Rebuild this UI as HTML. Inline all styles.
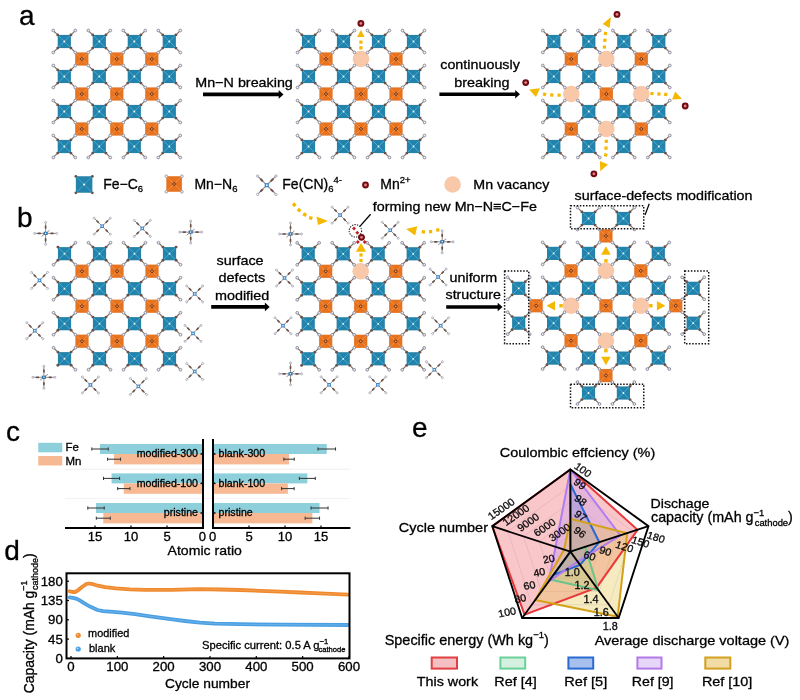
<!DOCTYPE html><html><head><meta charset="utf-8"><style>html,body{margin:0;padding:0;background:#fff}svg{display:block}text{font-family:'Liberation Sans', Arial, sans-serif;stroke:#000;stroke-width:0.3px}</style></head><body>
<svg width="800" height="700" viewBox="0 0 800 700">

<defs>
<g id="bl">
 <rect x="-6.6" y="-6.6" width="13.2" height="13.2" fill="#2383ab"/>
 <g stroke="#4cb2da" stroke-width="0.85"><line x1="-6.6" y1="-6.6" x2="6.6" y2="6.6"/><line x1="6.6" y1="-6.6" x2="-6.6" y2="6.6"/></g>
 <circle r="0.9" fill="#fff"/>
 <g fill="#6a5249"><circle cx="-6.6" cy="-6.6" r="1.45"/><circle cx="6.6" cy="-6.6" r="1.45"/><circle cx="-6.6" cy="6.6" r="1.45"/><circle cx="6.6" cy="6.6" r="1.45"/></g>
</g>
<g id="k0"><line x1="-7.4" y1="-7.4" x2="-10.2" y2="-10.2" stroke="#7a6c68" stroke-width="1.15"/><circle cx="-11" cy="-11" r="1.35" fill="#eef0f6" stroke="#8c8c9c" stroke-width="1"/></g>
<g id="k1"><line x1="7.4" y1="-7.4" x2="10.2" y2="-10.2" stroke="#7a6c68" stroke-width="1.15"/><circle cx="11" cy="-11" r="1.35" fill="#eef0f6" stroke="#8c8c9c" stroke-width="1"/></g>
<g id="k2"><line x1="-7.4" y1="7.4" x2="-10.2" y2="10.2" stroke="#7a6c68" stroke-width="1.15"/><circle cx="-11" cy="11" r="1.35" fill="#eef0f6" stroke="#8c8c9c" stroke-width="1"/></g>
<g id="k3"><line x1="7.4" y1="7.4" x2="10.2" y2="10.2" stroke="#7a6c68" stroke-width="1.15"/><circle cx="11" cy="11" r="1.35" fill="#eef0f6" stroke="#8c8c9c" stroke-width="1"/></g>
<g id="or">
 <rect x="-6.6" y="-6.6" width="13.2" height="13.2" fill="#e8731f"/>
 <g stroke="#f4a060" stroke-width="0.7"><line x1="-6.6" y1="-6.6" x2="6.6" y2="6.6"/><line x1="6.6" y1="-6.6" x2="-6.6" y2="6.6"/></g>
 <circle r="1.4" fill="none" stroke="#5a2a1a" stroke-width="0.8"/>
</g>
<g id="fx">
 <g stroke-width="1"><line x1="-7.8" y1="-7.8" x2="7.8" y2="7.8" stroke="#9a8e8a"/><line x1="7.8" y1="-7.8" x2="-7.8" y2="7.8" stroke="#9a8e8a"/></g>
 <g stroke="#6a5249" stroke-width="1.7" stroke-linecap="round"><line x1="-3.9" y1="-3.9" x2="-5.2" y2="-5.2"/><line x1="3.9" y1="3.9" x2="5.2" y2="5.2"/><line x1="3.9" y1="-3.9" x2="5.2" y2="-5.2"/><line x1="-3.9" y1="3.9" x2="-5.2" y2="5.2"/></g>
 <g fill="#fff" stroke="#a0a2b8" stroke-width="0.8"><circle cx="-8" cy="-8" r="1"/><circle cx="8" cy="8" r="1"/><circle cx="8" cy="-8" r="1"/><circle cx="-8" cy="8" r="1"/></g>
 <rect x="-1.8" y="-1.8" width="3.6" height="3.6" fill="#3f88c8"/><rect x="-0.7" y="-0.7" width="1.4" height="1.4" fill="#e8f4ff"/>
</g>
<g id="fp">
 <g stroke="#9a8e8a" stroke-width="1"><line x1="-11" y1="0" x2="11" y2="0"/><line x1="0" y1="-11" x2="0" y2="11"/><line x1="-4" y1="3" x2="4" y2="-3"/></g>
 <g stroke="#6a5249" stroke-width="1.7" stroke-linecap="round"><line x1="-5.5" y1="0" x2="-7.3" y2="0"/><line x1="5.5" y1="0" x2="7.3" y2="0"/><line x1="0" y1="-5.5" x2="0" y2="-7.3"/><line x1="0" y1="5.5" x2="0" y2="7.3"/></g>
 <g fill="#eef0f6" stroke="#a0a2b8" stroke-width="0.8"><circle cx="-11" cy="0" r="1"/><circle cx="11" cy="0" r="1"/><circle cx="0" cy="-11" r="1"/><circle cx="0" cy="11" r="1"/></g>
 <rect x="-2" y="-1.6" width="4" height="3.2" fill="#2f6fa8"/><circle r="0.8" fill="#dff"/>
</g>
<g id="mn"><circle r="3.4" fill="#6e0c12"/><circle r="1.4" fill="#e8808a"/></g>
</defs>
<rect width="800" height="700" fill="#fff"/>
<text x="19.00" y="24.80" font-size="28" text-anchor="start" fill="#000" >a</text>
<use href="#or" x="81.80" y="59.00"/>
<use href="#or" x="116.80" y="59.00"/>
<use href="#or" x="151.80" y="59.00"/>
<use href="#or" x="81.80" y="94.00"/>
<use href="#or" x="116.80" y="94.00"/>
<use href="#or" x="151.80" y="94.00"/>
<use href="#or" x="81.80" y="129.00"/>
<use href="#or" x="116.80" y="129.00"/>
<use href="#or" x="151.80" y="129.00"/>
<use href="#bl" x="64.30" y="41.50"/>
<use href="#bl" x="99.30" y="41.50"/>
<use href="#bl" x="134.30" y="41.50"/>
<use href="#bl" x="169.30" y="41.50"/>
<use href="#bl" x="64.30" y="76.50"/>
<use href="#bl" x="99.30" y="76.50"/>
<use href="#bl" x="134.30" y="76.50"/>
<use href="#bl" x="169.30" y="76.50"/>
<use href="#bl" x="64.30" y="111.50"/>
<use href="#bl" x="99.30" y="111.50"/>
<use href="#bl" x="134.30" y="111.50"/>
<use href="#bl" x="169.30" y="111.50"/>
<use href="#bl" x="64.30" y="146.50"/>
<use href="#bl" x="99.30" y="146.50"/>
<use href="#bl" x="134.30" y="146.50"/>
<use href="#bl" x="169.30" y="146.50"/>
<use href="#k0" x="64.30" y="41.50"/>
<use href="#k1" x="64.30" y="41.50"/>
<use href="#k2" x="64.30" y="41.50"/>
<use href="#k3" x="64.30" y="41.50"/>
<use href="#k0" x="99.30" y="41.50"/>
<use href="#k1" x="99.30" y="41.50"/>
<use href="#k2" x="99.30" y="41.50"/>
<use href="#k3" x="99.30" y="41.50"/>
<use href="#k0" x="134.30" y="41.50"/>
<use href="#k1" x="134.30" y="41.50"/>
<use href="#k2" x="134.30" y="41.50"/>
<use href="#k3" x="134.30" y="41.50"/>
<use href="#k0" x="169.30" y="41.50"/>
<use href="#k1" x="169.30" y="41.50"/>
<use href="#k2" x="169.30" y="41.50"/>
<use href="#k3" x="169.30" y="41.50"/>
<use href="#k0" x="64.30" y="76.50"/>
<use href="#k1" x="64.30" y="76.50"/>
<use href="#k2" x="64.30" y="76.50"/>
<use href="#k3" x="64.30" y="76.50"/>
<use href="#k0" x="99.30" y="76.50"/>
<use href="#k1" x="99.30" y="76.50"/>
<use href="#k2" x="99.30" y="76.50"/>
<use href="#k3" x="99.30" y="76.50"/>
<use href="#k0" x="134.30" y="76.50"/>
<use href="#k1" x="134.30" y="76.50"/>
<use href="#k2" x="134.30" y="76.50"/>
<use href="#k3" x="134.30" y="76.50"/>
<use href="#k0" x="169.30" y="76.50"/>
<use href="#k1" x="169.30" y="76.50"/>
<use href="#k2" x="169.30" y="76.50"/>
<use href="#k3" x="169.30" y="76.50"/>
<use href="#k0" x="64.30" y="111.50"/>
<use href="#k1" x="64.30" y="111.50"/>
<use href="#k2" x="64.30" y="111.50"/>
<use href="#k3" x="64.30" y="111.50"/>
<use href="#k0" x="99.30" y="111.50"/>
<use href="#k1" x="99.30" y="111.50"/>
<use href="#k2" x="99.30" y="111.50"/>
<use href="#k3" x="99.30" y="111.50"/>
<use href="#k0" x="134.30" y="111.50"/>
<use href="#k1" x="134.30" y="111.50"/>
<use href="#k2" x="134.30" y="111.50"/>
<use href="#k3" x="134.30" y="111.50"/>
<use href="#k0" x="169.30" y="111.50"/>
<use href="#k1" x="169.30" y="111.50"/>
<use href="#k2" x="169.30" y="111.50"/>
<use href="#k3" x="169.30" y="111.50"/>
<use href="#k0" x="64.30" y="146.50"/>
<use href="#k1" x="64.30" y="146.50"/>
<use href="#k2" x="64.30" y="146.50"/>
<use href="#k3" x="64.30" y="146.50"/>
<use href="#k0" x="99.30" y="146.50"/>
<use href="#k1" x="99.30" y="146.50"/>
<use href="#k2" x="99.30" y="146.50"/>
<use href="#k3" x="99.30" y="146.50"/>
<use href="#k0" x="134.30" y="146.50"/>
<use href="#k1" x="134.30" y="146.50"/>
<use href="#k2" x="134.30" y="146.50"/>
<use href="#k3" x="134.30" y="146.50"/>
<use href="#k0" x="169.30" y="146.50"/>
<use href="#k1" x="169.30" y="146.50"/>
<use href="#k2" x="169.30" y="146.50"/>
<use href="#k3" x="169.30" y="146.50"/>
<circle cx="361.00" cy="59.00" r="8.3" fill="#f8c8a8"/>
<use href="#or" x="326.00" y="59.00"/>
<use href="#or" x="396.00" y="59.00"/>
<use href="#or" x="326.00" y="94.00"/>
<use href="#or" x="361.00" y="94.00"/>
<use href="#or" x="396.00" y="94.00"/>
<use href="#or" x="326.00" y="129.00"/>
<use href="#or" x="361.00" y="129.00"/>
<use href="#or" x="396.00" y="129.00"/>
<use href="#bl" x="308.50" y="41.50"/>
<use href="#bl" x="343.50" y="41.50"/>
<use href="#bl" x="378.50" y="41.50"/>
<use href="#bl" x="413.50" y="41.50"/>
<use href="#bl" x="308.50" y="76.50"/>
<use href="#bl" x="343.50" y="76.50"/>
<use href="#bl" x="378.50" y="76.50"/>
<use href="#bl" x="413.50" y="76.50"/>
<use href="#bl" x="308.50" y="111.50"/>
<use href="#bl" x="343.50" y="111.50"/>
<use href="#bl" x="378.50" y="111.50"/>
<use href="#bl" x="413.50" y="111.50"/>
<use href="#bl" x="308.50" y="146.50"/>
<use href="#bl" x="343.50" y="146.50"/>
<use href="#bl" x="378.50" y="146.50"/>
<use href="#bl" x="413.50" y="146.50"/>
<use href="#k0" x="308.50" y="41.50"/>
<use href="#k1" x="308.50" y="41.50"/>
<use href="#k2" x="308.50" y="41.50"/>
<use href="#k3" x="308.50" y="41.50"/>
<use href="#k0" x="343.50" y="41.50"/>
<use href="#k1" x="343.50" y="41.50"/>
<use href="#k2" x="343.50" y="41.50"/>
<use href="#k3" x="343.50" y="41.50"/>
<use href="#k0" x="378.50" y="41.50"/>
<use href="#k1" x="378.50" y="41.50"/>
<use href="#k2" x="378.50" y="41.50"/>
<use href="#k3" x="378.50" y="41.50"/>
<use href="#k0" x="413.50" y="41.50"/>
<use href="#k1" x="413.50" y="41.50"/>
<use href="#k2" x="413.50" y="41.50"/>
<use href="#k3" x="413.50" y="41.50"/>
<use href="#k0" x="308.50" y="76.50"/>
<use href="#k1" x="308.50" y="76.50"/>
<use href="#k2" x="308.50" y="76.50"/>
<use href="#k3" x="308.50" y="76.50"/>
<use href="#k0" x="343.50" y="76.50"/>
<use href="#k1" x="343.50" y="76.50"/>
<use href="#k2" x="343.50" y="76.50"/>
<use href="#k3" x="343.50" y="76.50"/>
<use href="#k0" x="378.50" y="76.50"/>
<use href="#k1" x="378.50" y="76.50"/>
<use href="#k2" x="378.50" y="76.50"/>
<use href="#k3" x="378.50" y="76.50"/>
<use href="#k0" x="413.50" y="76.50"/>
<use href="#k1" x="413.50" y="76.50"/>
<use href="#k2" x="413.50" y="76.50"/>
<use href="#k3" x="413.50" y="76.50"/>
<use href="#k0" x="308.50" y="111.50"/>
<use href="#k1" x="308.50" y="111.50"/>
<use href="#k2" x="308.50" y="111.50"/>
<use href="#k3" x="308.50" y="111.50"/>
<use href="#k0" x="343.50" y="111.50"/>
<use href="#k1" x="343.50" y="111.50"/>
<use href="#k2" x="343.50" y="111.50"/>
<use href="#k3" x="343.50" y="111.50"/>
<use href="#k0" x="378.50" y="111.50"/>
<use href="#k1" x="378.50" y="111.50"/>
<use href="#k2" x="378.50" y="111.50"/>
<use href="#k3" x="378.50" y="111.50"/>
<use href="#k0" x="413.50" y="111.50"/>
<use href="#k1" x="413.50" y="111.50"/>
<use href="#k2" x="413.50" y="111.50"/>
<use href="#k3" x="413.50" y="111.50"/>
<use href="#k0" x="308.50" y="146.50"/>
<use href="#k1" x="308.50" y="146.50"/>
<use href="#k2" x="308.50" y="146.50"/>
<use href="#k3" x="308.50" y="146.50"/>
<use href="#k0" x="343.50" y="146.50"/>
<use href="#k1" x="343.50" y="146.50"/>
<use href="#k2" x="343.50" y="146.50"/>
<use href="#k3" x="343.50" y="146.50"/>
<use href="#k0" x="378.50" y="146.50"/>
<use href="#k1" x="378.50" y="146.50"/>
<use href="#k2" x="378.50" y="146.50"/>
<use href="#k3" x="378.50" y="146.50"/>
<use href="#k0" x="413.50" y="146.50"/>
<use href="#k1" x="413.50" y="146.50"/>
<use href="#k2" x="413.50" y="146.50"/>
<use href="#k3" x="413.50" y="146.50"/>
<rect x="359.30" y="46.20" width="3.2" height="3.2" fill="#f5b800" transform="rotate(-90.0 360.90 47.80)"/>
<rect x="359.30" y="40.60" width="3.2" height="3.2" fill="#f5b800" transform="rotate(-90.3 360.90 42.20)"/>
<polygon points="360.90,30.00 357.10,37.10 364.60,37.10" fill="#f5b800"/>
<use href="#mn" x="360.90" y="23.40"/>
<circle cx="606.30" cy="59.00" r="8.3" fill="#f8c8a8"/>
<circle cx="571.30" cy="94.00" r="8.3" fill="#f8c8a8"/>
<circle cx="641.30" cy="94.00" r="8.3" fill="#f8c8a8"/>
<circle cx="606.30" cy="129.00" r="8.3" fill="#f8c8a8"/>
<use href="#or" x="571.30" y="59.00"/>
<use href="#or" x="641.30" y="59.00"/>
<use href="#or" x="606.30" y="94.00"/>
<use href="#or" x="571.30" y="129.00"/>
<use href="#or" x="641.30" y="129.00"/>
<use href="#bl" x="553.80" y="41.50"/>
<use href="#bl" x="588.80" y="41.50"/>
<use href="#bl" x="623.80" y="41.50"/>
<use href="#bl" x="658.80" y="41.50"/>
<use href="#bl" x="553.80" y="76.50"/>
<use href="#bl" x="588.80" y="76.50"/>
<use href="#bl" x="623.80" y="76.50"/>
<use href="#bl" x="658.80" y="76.50"/>
<use href="#bl" x="553.80" y="111.50"/>
<use href="#bl" x="588.80" y="111.50"/>
<use href="#bl" x="623.80" y="111.50"/>
<use href="#bl" x="658.80" y="111.50"/>
<use href="#bl" x="553.80" y="146.50"/>
<use href="#bl" x="588.80" y="146.50"/>
<use href="#bl" x="623.80" y="146.50"/>
<use href="#bl" x="658.80" y="146.50"/>
<use href="#k0" x="553.80" y="41.50"/>
<use href="#k1" x="553.80" y="41.50"/>
<use href="#k2" x="553.80" y="41.50"/>
<use href="#k3" x="553.80" y="41.50"/>
<use href="#k0" x="588.80" y="41.50"/>
<use href="#k1" x="588.80" y="41.50"/>
<use href="#k2" x="588.80" y="41.50"/>
<use href="#k3" x="588.80" y="41.50"/>
<use href="#k0" x="623.80" y="41.50"/>
<use href="#k1" x="623.80" y="41.50"/>
<use href="#k2" x="623.80" y="41.50"/>
<use href="#k3" x="623.80" y="41.50"/>
<use href="#k0" x="658.80" y="41.50"/>
<use href="#k1" x="658.80" y="41.50"/>
<use href="#k2" x="658.80" y="41.50"/>
<use href="#k3" x="658.80" y="41.50"/>
<use href="#k0" x="553.80" y="76.50"/>
<use href="#k1" x="553.80" y="76.50"/>
<use href="#k2" x="553.80" y="76.50"/>
<use href="#k3" x="553.80" y="76.50"/>
<use href="#k0" x="588.80" y="76.50"/>
<use href="#k1" x="588.80" y="76.50"/>
<use href="#k2" x="588.80" y="76.50"/>
<use href="#k3" x="588.80" y="76.50"/>
<use href="#k0" x="623.80" y="76.50"/>
<use href="#k1" x="623.80" y="76.50"/>
<use href="#k2" x="623.80" y="76.50"/>
<use href="#k3" x="623.80" y="76.50"/>
<use href="#k0" x="658.80" y="76.50"/>
<use href="#k1" x="658.80" y="76.50"/>
<use href="#k2" x="658.80" y="76.50"/>
<use href="#k3" x="658.80" y="76.50"/>
<use href="#k0" x="553.80" y="111.50"/>
<use href="#k1" x="553.80" y="111.50"/>
<use href="#k2" x="553.80" y="111.50"/>
<use href="#k3" x="553.80" y="111.50"/>
<use href="#k0" x="588.80" y="111.50"/>
<use href="#k1" x="588.80" y="111.50"/>
<use href="#k2" x="588.80" y="111.50"/>
<use href="#k3" x="588.80" y="111.50"/>
<use href="#k0" x="623.80" y="111.50"/>
<use href="#k1" x="623.80" y="111.50"/>
<use href="#k2" x="623.80" y="111.50"/>
<use href="#k3" x="623.80" y="111.50"/>
<use href="#k0" x="658.80" y="111.50"/>
<use href="#k1" x="658.80" y="111.50"/>
<use href="#k2" x="658.80" y="111.50"/>
<use href="#k3" x="658.80" y="111.50"/>
<use href="#k0" x="553.80" y="146.50"/>
<use href="#k1" x="553.80" y="146.50"/>
<use href="#k2" x="553.80" y="146.50"/>
<use href="#k3" x="553.80" y="146.50"/>
<use href="#k0" x="588.80" y="146.50"/>
<use href="#k1" x="588.80" y="146.50"/>
<use href="#k2" x="588.80" y="146.50"/>
<use href="#k3" x="588.80" y="146.50"/>
<use href="#k0" x="623.80" y="146.50"/>
<use href="#k1" x="623.80" y="146.50"/>
<use href="#k2" x="623.80" y="146.50"/>
<use href="#k3" x="623.80" y="146.50"/>
<use href="#k0" x="658.80" y="146.50"/>
<use href="#k1" x="658.80" y="146.50"/>
<use href="#k2" x="658.80" y="146.50"/>
<use href="#k3" x="658.80" y="146.50"/>
<rect x="602.80" y="45.50" width="3.2" height="3.2" fill="#f5b800" transform="rotate(-85.8 604.40 47.10)"/>
<rect x="603.30" y="38.70" width="3.2" height="3.2" fill="#f5b800" transform="rotate(-85.0 604.90 40.30)"/>
<rect x="603.90" y="31.80" width="3.2" height="3.2" fill="#f5b800" transform="rotate(-77.9 605.50 33.40)"/>
<polygon points="610.90,17.10 602.70,24.00 609.60,27.90" fill="#f5b800"/>
<use href="#mn" x="617.00" y="14.40"/>
<rect x="557.50" y="93.60" width="3.2" height="3.2" fill="#f5b800" transform="rotate(-178.4 559.10 95.20)"/>
<rect x="550.20" y="93.40" width="3.2" height="3.2" fill="#f5b800" transform="rotate(-174.4 551.80 95.00)"/>
<rect x="543.00" y="92.70" width="3.2" height="3.2" fill="#f5b800" transform="rotate(-164.4 544.60 94.30)"/>
<polygon points="529.10,89.60 540.00,88.30 536.00,97.00" fill="#f5b800"/>
<use href="#mn" x="525.70" y="82.60"/>
<rect x="650.40" y="92.00" width="3.2" height="3.2" fill="#f5b800" transform="rotate(3.3 652.00 93.60)"/>
<rect x="657.30" y="92.40" width="3.2" height="3.2" fill="#f5b800" transform="rotate(3.4 658.90 94.00)"/>
<rect x="664.10" y="92.80" width="3.2" height="3.2" fill="#f5b800" transform="rotate(12.1 665.70 94.40)"/>
<polygon points="682.00,99.10 675.10,91.40 672.10,99.60" fill="#f5b800"/>
<use href="#mn" x="685.20" y="106.00"/>
<rect x="604.70" y="139.70" width="3.2" height="3.2" fill="#f5b800" transform="rotate(92.5 606.30 141.30)"/>
<rect x="604.40" y="146.50" width="3.2" height="3.2" fill="#f5b800" transform="rotate(92.5 606.00 148.10)"/>
<rect x="604.10" y="153.40" width="3.2" height="3.2" fill="#f5b800" transform="rotate(105.7 605.70 155.00)"/>
<polygon points="600.30,171.30 599.90,161.00 608.00,164.40" fill="#f5b800"/>
<use href="#mn" x="593.90" y="173.80"/>
<text x="244.10" y="86.50" font-size="13.5" text-anchor="middle" fill="#000" textLength="97.5" lengthAdjust="spacingAndGlyphs" >Mn−N breaking</text>
<line x1="203" y1="94.4" x2="279.2" y2="94.4" stroke="#000" stroke-width="3.6"/>
<polygon points="278.7,90.10000000000001 283.5,94.4 278.7,98.7" fill="#000"/>
<text x="480.05" y="69.30" font-size="13.5" text-anchor="middle" fill="#000" textLength="79.6" lengthAdjust="spacingAndGlyphs" >continuously</text>
<text x="481.85" y="86.80" font-size="13.5" text-anchor="middle" fill="#000" textLength="55.2" lengthAdjust="spacingAndGlyphs" >breaking</text>
<line x1="439.4" y1="94.3" x2="515.7" y2="94.3" stroke="#000" stroke-width="3.6"/>
<polygon points="515.2,90.0 520,94.3 515.2,98.6" fill="#000"/>
<g transform="translate(84.1,184.5) scale(1.25)"><rect x="-6.6" y="-6.6" width="13.2" height="13.2" fill="#2383ab"/><g stroke="#4cb2da" stroke-width="0.6"><line x1="-6.6" y1="-6.6" x2="6.6" y2="6.6"/><line x1="6.6" y1="-6.6" x2="-6.6" y2="6.6"/></g><circle r="0.8" fill="#fff"/><g fill="#6a5249"><circle cx="-6.6" cy="-6.6" r="1.1"/><circle cx="6.6" cy="-6.6" r="1.1"/><circle cx="-6.6" cy="6.6" r="1.1"/><circle cx="6.6" cy="6.6" r="1.1"/></g></g>
<text x="103.20" y="188.60" font-size="14" text-anchor="start" fill="#000" >Fe−C<tspan font-size="9.5" dy="3.6">6</tspan></text>
<g transform="translate(174.1,184) scale(1.18)"><rect x="-6.6" y="-6.6" width="13.2" height="13.2" fill="#e8731f"/><g stroke="#f4a060" stroke-width="0.6"><line x1="-6.6" y1="-6.6" x2="6.6" y2="6.6"/><line x1="6.6" y1="-6.6" x2="-6.6" y2="6.6"/></g><circle r="1.2" fill="none" stroke="#5a2a1a" stroke-width="0.7"/><g fill="#fff" stroke="#8c8c9c" stroke-width="0.7"><circle cx="-6.6" cy="-6.6" r="1.1"/><circle cx="6.6" cy="-6.6" r="1.1"/><circle cx="-6.6" cy="6.6" r="1.1"/><circle cx="6.6" cy="6.6" r="1.1"/></g></g>
<text x="194.40" y="188.60" font-size="14" text-anchor="start" fill="#000" >Mn−N<tspan font-size="9.5" dy="3.6">6</tspan></text>
<use href="#fx" x="266.8" y="185.2" transform="translate(266.8,185.2) scale(1.15) translate(-266.8,-185.2)"/>
<text x="282.30" y="188.60" font-size="14" text-anchor="start" fill="#000" >Fe(CN)<tspan font-size="9.5" dy="3.6">6</tspan><tspan font-size="9.5" dy="-9.5">4-</tspan></text>
<use href="#mn" x="365.50" y="185.00"/>
<text x="380.30" y="188.60" font-size="14" text-anchor="start" fill="#000" >Mn<tspan font-size="9.5" dy="-6">2+</tspan></text>
<circle cx="452.6" cy="184.5" r="8.3" fill="#f8c8a8"/>
<text x="511.35" y="188.60" font-size="13.5" text-anchor="middle" fill="#000" textLength="76.0" lengthAdjust="spacingAndGlyphs" >Mn vacancy</text>
<text x="17.00" y="227.40" font-size="28" text-anchor="start" fill="#000" >b</text>
<use href="#or" x="82.00" y="271.20"/>
<use href="#or" x="117.00" y="271.20"/>
<use href="#or" x="152.00" y="271.20"/>
<use href="#or" x="82.00" y="306.20"/>
<use href="#or" x="117.00" y="306.20"/>
<use href="#or" x="152.00" y="306.20"/>
<use href="#or" x="82.00" y="341.20"/>
<use href="#or" x="117.00" y="341.20"/>
<use href="#or" x="152.00" y="341.20"/>
<use href="#bl" x="64.50" y="253.70"/>
<use href="#bl" x="99.50" y="253.70"/>
<use href="#bl" x="134.50" y="253.70"/>
<use href="#bl" x="169.50" y="253.70"/>
<use href="#bl" x="64.50" y="288.70"/>
<use href="#bl" x="99.50" y="288.70"/>
<use href="#bl" x="134.50" y="288.70"/>
<use href="#bl" x="169.50" y="288.70"/>
<use href="#bl" x="64.50" y="323.70"/>
<use href="#bl" x="99.50" y="323.70"/>
<use href="#bl" x="134.50" y="323.70"/>
<use href="#bl" x="169.50" y="323.70"/>
<use href="#bl" x="64.50" y="358.70"/>
<use href="#bl" x="99.50" y="358.70"/>
<use href="#bl" x="134.50" y="358.70"/>
<use href="#bl" x="169.50" y="358.70"/>
<use href="#k1" x="64.50" y="253.70"/>
<use href="#k2" x="64.50" y="253.70"/>
<use href="#k3" x="64.50" y="253.70"/>
<use href="#k0" x="99.50" y="253.70"/>
<use href="#k1" x="99.50" y="253.70"/>
<use href="#k2" x="99.50" y="253.70"/>
<use href="#k3" x="99.50" y="253.70"/>
<use href="#k0" x="134.50" y="253.70"/>
<use href="#k1" x="134.50" y="253.70"/>
<use href="#k2" x="134.50" y="253.70"/>
<use href="#k3" x="134.50" y="253.70"/>
<use href="#k0" x="169.50" y="253.70"/>
<use href="#k2" x="169.50" y="253.70"/>
<use href="#k3" x="169.50" y="253.70"/>
<use href="#k0" x="64.50" y="288.70"/>
<use href="#k1" x="64.50" y="288.70"/>
<use href="#k2" x="64.50" y="288.70"/>
<use href="#k3" x="64.50" y="288.70"/>
<use href="#k0" x="99.50" y="288.70"/>
<use href="#k1" x="99.50" y="288.70"/>
<use href="#k2" x="99.50" y="288.70"/>
<use href="#k3" x="99.50" y="288.70"/>
<use href="#k0" x="134.50" y="288.70"/>
<use href="#k1" x="134.50" y="288.70"/>
<use href="#k2" x="134.50" y="288.70"/>
<use href="#k3" x="134.50" y="288.70"/>
<use href="#k0" x="169.50" y="288.70"/>
<use href="#k1" x="169.50" y="288.70"/>
<use href="#k2" x="169.50" y="288.70"/>
<use href="#k3" x="169.50" y="288.70"/>
<use href="#k0" x="64.50" y="323.70"/>
<use href="#k1" x="64.50" y="323.70"/>
<use href="#k2" x="64.50" y="323.70"/>
<use href="#k3" x="64.50" y="323.70"/>
<use href="#k0" x="99.50" y="323.70"/>
<use href="#k1" x="99.50" y="323.70"/>
<use href="#k2" x="99.50" y="323.70"/>
<use href="#k3" x="99.50" y="323.70"/>
<use href="#k0" x="134.50" y="323.70"/>
<use href="#k1" x="134.50" y="323.70"/>
<use href="#k2" x="134.50" y="323.70"/>
<use href="#k3" x="134.50" y="323.70"/>
<use href="#k0" x="169.50" y="323.70"/>
<use href="#k1" x="169.50" y="323.70"/>
<use href="#k2" x="169.50" y="323.70"/>
<use href="#k3" x="169.50" y="323.70"/>
<use href="#k0" x="64.50" y="358.70"/>
<use href="#k1" x="64.50" y="358.70"/>
<use href="#k3" x="64.50" y="358.70"/>
<use href="#k0" x="99.50" y="358.70"/>
<use href="#k1" x="99.50" y="358.70"/>
<use href="#k2" x="99.50" y="358.70"/>
<use href="#k3" x="99.50" y="358.70"/>
<use href="#k0" x="134.50" y="358.70"/>
<use href="#k1" x="134.50" y="358.70"/>
<use href="#k2" x="134.50" y="358.70"/>
<use href="#k3" x="134.50" y="358.70"/>
<use href="#k0" x="169.50" y="358.70"/>
<use href="#k1" x="169.50" y="358.70"/>
<use href="#k2" x="169.50" y="358.70"/>
<use href="#k3" x="169.50" y="358.70"/>
<use href="#fx" x="102.2" y="226.2"/>
<use href="#fx" x="142.3" y="228.4"/>
<use href="#fx" x="39.5" y="280.4"/>
<use href="#fx" x="194.7" y="293.9"/>
<use href="#fx" x="34.8" y="330.7"/>
<use href="#fx" x="193" y="333.4"/>
<use href="#fx" x="90.4" y="385"/>
<use href="#fx" x="138.4" y="386.4"/>
<use href="#fx" x="194.7" y="371.5"/>
<use href="#fp" x="45.6" y="233.4"/>
<use href="#fp" x="190.7" y="232.1"/>
<use href="#fp" x="43.9" y="377.3"/>
<text x="240.05" y="265.40" font-size="13.5" text-anchor="middle" fill="#000" textLength="47.2" lengthAdjust="spacingAndGlyphs" >surface</text>
<text x="241.85" y="282.30" font-size="13.5" text-anchor="middle" fill="#000" textLength="46.6" lengthAdjust="spacingAndGlyphs" >defects</text>
<text x="242.10" y="299.70" font-size="13.5" text-anchor="middle" fill="#000" textLength="54.3" lengthAdjust="spacingAndGlyphs" >modified</text>
<line x1="211.2" y1="306.9" x2="265.4" y2="306.9" stroke="#000" stroke-width="3.6"/>
<polygon points="264.9,302.59999999999997 269.7,306.9 264.9,311.2" fill="#000"/>
<circle cx="360.70" cy="271.30" r="8.3" fill="#f8c8a8"/>
<use href="#or" x="325.70" y="271.30"/>
<use href="#or" x="395.70" y="271.30"/>
<use href="#or" x="325.70" y="306.30"/>
<use href="#or" x="360.70" y="306.30"/>
<use href="#or" x="395.70" y="306.30"/>
<use href="#or" x="325.70" y="341.30"/>
<use href="#or" x="360.70" y="341.30"/>
<use href="#or" x="395.70" y="341.30"/>
<use href="#bl" x="308.20" y="253.80"/>
<use href="#bl" x="343.20" y="253.80"/>
<use href="#bl" x="378.20" y="253.80"/>
<use href="#bl" x="413.20" y="253.80"/>
<use href="#bl" x="308.20" y="288.80"/>
<use href="#bl" x="343.20" y="288.80"/>
<use href="#bl" x="378.20" y="288.80"/>
<use href="#bl" x="413.20" y="288.80"/>
<use href="#bl" x="308.20" y="323.80"/>
<use href="#bl" x="343.20" y="323.80"/>
<use href="#bl" x="378.20" y="323.80"/>
<use href="#bl" x="413.20" y="323.80"/>
<use href="#bl" x="308.20" y="358.80"/>
<use href="#bl" x="343.20" y="358.80"/>
<use href="#bl" x="378.20" y="358.80"/>
<use href="#bl" x="413.20" y="358.80"/>
<use href="#k0" x="308.20" y="253.80"/>
<use href="#k1" x="308.20" y="253.80"/>
<use href="#k2" x="308.20" y="253.80"/>
<use href="#k3" x="308.20" y="253.80"/>
<use href="#k0" x="343.20" y="253.80"/>
<use href="#k1" x="343.20" y="253.80"/>
<use href="#k2" x="343.20" y="253.80"/>
<use href="#k3" x="343.20" y="253.80"/>
<use href="#k0" x="378.20" y="253.80"/>
<use href="#k1" x="378.20" y="253.80"/>
<use href="#k2" x="378.20" y="253.80"/>
<use href="#k3" x="378.20" y="253.80"/>
<use href="#k0" x="413.20" y="253.80"/>
<use href="#k1" x="413.20" y="253.80"/>
<use href="#k2" x="413.20" y="253.80"/>
<use href="#k3" x="413.20" y="253.80"/>
<use href="#k0" x="308.20" y="288.80"/>
<use href="#k1" x="308.20" y="288.80"/>
<use href="#k2" x="308.20" y="288.80"/>
<use href="#k3" x="308.20" y="288.80"/>
<use href="#k0" x="343.20" y="288.80"/>
<use href="#k1" x="343.20" y="288.80"/>
<use href="#k2" x="343.20" y="288.80"/>
<use href="#k3" x="343.20" y="288.80"/>
<use href="#k0" x="378.20" y="288.80"/>
<use href="#k1" x="378.20" y="288.80"/>
<use href="#k2" x="378.20" y="288.80"/>
<use href="#k3" x="378.20" y="288.80"/>
<use href="#k0" x="413.20" y="288.80"/>
<use href="#k1" x="413.20" y="288.80"/>
<use href="#k2" x="413.20" y="288.80"/>
<use href="#k3" x="413.20" y="288.80"/>
<use href="#k0" x="308.20" y="323.80"/>
<use href="#k1" x="308.20" y="323.80"/>
<use href="#k2" x="308.20" y="323.80"/>
<use href="#k3" x="308.20" y="323.80"/>
<use href="#k0" x="343.20" y="323.80"/>
<use href="#k1" x="343.20" y="323.80"/>
<use href="#k2" x="343.20" y="323.80"/>
<use href="#k3" x="343.20" y="323.80"/>
<use href="#k0" x="378.20" y="323.80"/>
<use href="#k1" x="378.20" y="323.80"/>
<use href="#k2" x="378.20" y="323.80"/>
<use href="#k3" x="378.20" y="323.80"/>
<use href="#k0" x="413.20" y="323.80"/>
<use href="#k1" x="413.20" y="323.80"/>
<use href="#k2" x="413.20" y="323.80"/>
<use href="#k3" x="413.20" y="323.80"/>
<use href="#k0" x="308.20" y="358.80"/>
<use href="#k1" x="308.20" y="358.80"/>
<use href="#k3" x="308.20" y="358.80"/>
<use href="#k0" x="343.20" y="358.80"/>
<use href="#k1" x="343.20" y="358.80"/>
<use href="#k2" x="343.20" y="358.80"/>
<use href="#k3" x="343.20" y="358.80"/>
<use href="#k0" x="378.20" y="358.80"/>
<use href="#k1" x="378.20" y="358.80"/>
<use href="#k2" x="378.20" y="358.80"/>
<use href="#k3" x="378.20" y="358.80"/>
<use href="#k0" x="413.20" y="358.80"/>
<use href="#k1" x="413.20" y="358.80"/>
<use href="#k2" x="413.20" y="358.80"/>
<use href="#k3" x="413.20" y="358.80"/>
<use href="#fx" x="340.1" y="215.1"/>
<use href="#fx" x="390.25" y="230.25"/>
<use href="#fx" x="284.5" y="278"/>
<use href="#fx" x="438.1" y="277"/>
<use href="#fx" x="283" y="325.7"/>
<use href="#fx" x="440.6" y="325.7"/>
<use href="#fx" x="329.1" y="384.8"/>
<use href="#fx" x="377.8" y="384.8"/>
<use href="#fx" x="434.4" y="369.7"/>
<use href="#fp" x="290.5" y="234"/>
<use href="#fp" x="442.2" y="241.8"/>
<use href="#fp" x="290.5" y="373.8"/>
<circle cx="355.4" cy="230.8" r="6.2" fill="none" stroke="#222" stroke-width="1.1" stroke-dasharray="1.3,1.2"/>
<rect x="352.6" y="227.1" width="2.8" height="2.8" fill="#c0202a" transform="rotate(45 354 228.5)"/>
<rect x="355.90000000000003" y="231.29999999999998" width="2.8" height="2.8" fill="#c0202a" transform="rotate(45 357.3 232.7)"/>
<rect x="356.40000000000003" y="240.6" width="2.8" height="2.8" fill="#c0202a" transform="rotate(45 357.8 242)"/>
<rect x="363.3" y="240.6" width="2.8" height="2.8" fill="#c0202a" transform="rotate(45 364.7 242)"/>
<use href="#mn" x="361.50" y="237.30"/>
<rect x="359.40" y="258.90" width="3.2" height="3.2" fill="#f5b800" transform="rotate(-90.0 361.00 260.50)"/>
<rect x="359.40" y="253.40" width="3.2" height="3.2" fill="#f5b800" transform="rotate(-90.0 361.00 255.00)"/>
<polygon points="361.00,242.90 355.90,251.70 366.10,251.70" fill="#f5b800"/>
<line x1="370.6" y1="214.3" x2="359.9" y2="226.4" stroke="#000" stroke-width="1.3"/>
<text x="454.85" y="211.20" font-size="13.5" text-anchor="middle" fill="#000" textLength="164.0" lengthAdjust="spacingAndGlyphs" >forming new Mn−N≡C−Fe</text>
<rect x="292.55" y="203.05" width="3.4" height="3.4" fill="#f5b800" transform="rotate(48.3 294.25 204.75)"/>
<rect x="297.40" y="208.50" width="3.4" height="3.4" fill="#f5b800" transform="rotate(37.9 299.10 210.20)"/>
<rect x="303.05" y="212.90" width="3.4" height="3.4" fill="#f5b800" transform="rotate(29.5 304.75 214.60)"/>
<rect x="309.05" y="216.30" width="3.4" height="3.4" fill="#f5b800" transform="rotate(15.7 310.75 218.00)"/>
<polygon points="316.50,216.50 328.00,221.00 318.00,225.00" fill="#f5b800"/>
<rect x="436.20" y="228.40" width="3.2" height="3.2" fill="#f5b800" transform="rotate(167.5 437.80 230.00)"/>
<rect x="429.00" y="230.00" width="3.2" height="3.2" fill="#f5b800" transform="rotate(177.6 430.60 231.60)"/>
<rect x="421.80" y="230.30" width="3.2" height="3.2" fill="#f5b800" transform="rotate(-171.4 423.40 231.90)"/>
<polygon points="406.20,229.10 417.20,226.20 415.20,235.60" fill="#f5b800"/>
<text x="473.40" y="282.20" font-size="13.5" text-anchor="middle" fill="#000" textLength="47.7" lengthAdjust="spacingAndGlyphs" >uniform</text>
<text x="473.25" y="299.20" font-size="13.5" text-anchor="middle" fill="#000" textLength="55.4" lengthAdjust="spacingAndGlyphs" >structure</text>
<line x1="446.2" y1="307" x2="498.2" y2="307" stroke="#000" stroke-width="3.6"/>
<polygon points="497.7,302.7 502.5,307 497.7,311.3" fill="#000"/>
<circle cx="605.95" cy="270.85" r="8.3" fill="#f8c8a8"/>
<circle cx="571.05" cy="305.75" r="8.3" fill="#f8c8a8"/>
<circle cx="640.85" cy="305.75" r="8.3" fill="#f8c8a8"/>
<circle cx="605.95" cy="340.65" r="8.3" fill="#f8c8a8"/>
<use href="#or" x="571.05" y="270.85"/>
<use href="#or" x="640.85" y="270.85"/>
<use href="#or" x="605.95" y="305.75"/>
<use href="#or" x="571.05" y="340.65"/>
<use href="#or" x="640.85" y="340.65"/>
<use href="#or" x="605.95" y="235.95"/>
<use href="#or" x="605.95" y="375.55"/>
<use href="#or" x="536.15" y="305.75"/>
<use href="#or" x="675.75" y="305.75"/>
<use href="#bl" x="553.60" y="253.40"/>
<use href="#bl" x="588.50" y="253.40"/>
<use href="#bl" x="623.40" y="253.40"/>
<use href="#bl" x="658.30" y="253.40"/>
<use href="#bl" x="553.60" y="288.30"/>
<use href="#bl" x="588.50" y="288.30"/>
<use href="#bl" x="623.40" y="288.30"/>
<use href="#bl" x="658.30" y="288.30"/>
<use href="#bl" x="553.60" y="323.20"/>
<use href="#bl" x="588.50" y="323.20"/>
<use href="#bl" x="623.40" y="323.20"/>
<use href="#bl" x="658.30" y="323.20"/>
<use href="#bl" x="553.60" y="358.10"/>
<use href="#bl" x="588.50" y="358.10"/>
<use href="#bl" x="623.40" y="358.10"/>
<use href="#bl" x="658.30" y="358.10"/>
<use href="#bl" x="518.70" y="288.30"/>
<use href="#bl" x="518.70" y="323.20"/>
<use href="#bl" x="693.20" y="288.30"/>
<use href="#bl" x="693.20" y="323.20"/>
<use href="#bl" x="588.50" y="218.50"/>
<use href="#bl" x="623.40" y="218.50"/>
<use href="#bl" x="588.50" y="393.00"/>
<use href="#bl" x="623.40" y="393.00"/>
<use href="#k0" x="553.60" y="253.40"/>
<use href="#k1" x="553.60" y="253.40"/>
<use href="#k2" x="553.60" y="253.40"/>
<use href="#k3" x="553.60" y="253.40"/>
<use href="#k0" x="588.50" y="253.40"/>
<use href="#k1" x="588.50" y="253.40"/>
<use href="#k2" x="588.50" y="253.40"/>
<use href="#k3" x="588.50" y="253.40"/>
<use href="#k0" x="623.40" y="253.40"/>
<use href="#k1" x="623.40" y="253.40"/>
<use href="#k2" x="623.40" y="253.40"/>
<use href="#k3" x="623.40" y="253.40"/>
<use href="#k0" x="658.30" y="253.40"/>
<use href="#k1" x="658.30" y="253.40"/>
<use href="#k2" x="658.30" y="253.40"/>
<use href="#k3" x="658.30" y="253.40"/>
<use href="#k0" x="553.60" y="288.30"/>
<use href="#k1" x="553.60" y="288.30"/>
<use href="#k2" x="553.60" y="288.30"/>
<use href="#k3" x="553.60" y="288.30"/>
<use href="#k0" x="588.50" y="288.30"/>
<use href="#k1" x="588.50" y="288.30"/>
<use href="#k2" x="588.50" y="288.30"/>
<use href="#k3" x="588.50" y="288.30"/>
<use href="#k0" x="623.40" y="288.30"/>
<use href="#k1" x="623.40" y="288.30"/>
<use href="#k2" x="623.40" y="288.30"/>
<use href="#k3" x="623.40" y="288.30"/>
<use href="#k0" x="658.30" y="288.30"/>
<use href="#k1" x="658.30" y="288.30"/>
<use href="#k2" x="658.30" y="288.30"/>
<use href="#k3" x="658.30" y="288.30"/>
<use href="#k0" x="553.60" y="323.20"/>
<use href="#k1" x="553.60" y="323.20"/>
<use href="#k2" x="553.60" y="323.20"/>
<use href="#k3" x="553.60" y="323.20"/>
<use href="#k0" x="588.50" y="323.20"/>
<use href="#k1" x="588.50" y="323.20"/>
<use href="#k2" x="588.50" y="323.20"/>
<use href="#k3" x="588.50" y="323.20"/>
<use href="#k0" x="623.40" y="323.20"/>
<use href="#k1" x="623.40" y="323.20"/>
<use href="#k2" x="623.40" y="323.20"/>
<use href="#k3" x="623.40" y="323.20"/>
<use href="#k0" x="658.30" y="323.20"/>
<use href="#k1" x="658.30" y="323.20"/>
<use href="#k2" x="658.30" y="323.20"/>
<use href="#k3" x="658.30" y="323.20"/>
<use href="#k0" x="553.60" y="358.10"/>
<use href="#k1" x="553.60" y="358.10"/>
<use href="#k2" x="553.60" y="358.10"/>
<use href="#k3" x="553.60" y="358.10"/>
<use href="#k0" x="588.50" y="358.10"/>
<use href="#k1" x="588.50" y="358.10"/>
<use href="#k2" x="588.50" y="358.10"/>
<use href="#k3" x="588.50" y="358.10"/>
<use href="#k0" x="623.40" y="358.10"/>
<use href="#k1" x="623.40" y="358.10"/>
<use href="#k2" x="623.40" y="358.10"/>
<use href="#k3" x="623.40" y="358.10"/>
<use href="#k0" x="658.30" y="358.10"/>
<use href="#k1" x="658.30" y="358.10"/>
<use href="#k2" x="658.30" y="358.10"/>
<use href="#k3" x="658.30" y="358.10"/>
<use href="#k0" x="518.70" y="288.30"/>
<use href="#k1" x="518.70" y="288.30"/>
<use href="#k2" x="518.70" y="288.30"/>
<use href="#k3" x="518.70" y="288.30"/>
<use href="#k0" x="518.70" y="323.20"/>
<use href="#k1" x="518.70" y="323.20"/>
<use href="#k2" x="518.70" y="323.20"/>
<use href="#k3" x="518.70" y="323.20"/>
<use href="#k0" x="693.20" y="288.30"/>
<use href="#k1" x="693.20" y="288.30"/>
<use href="#k2" x="693.20" y="288.30"/>
<use href="#k3" x="693.20" y="288.30"/>
<use href="#k0" x="693.20" y="323.20"/>
<use href="#k1" x="693.20" y="323.20"/>
<use href="#k2" x="693.20" y="323.20"/>
<use href="#k3" x="693.20" y="323.20"/>
<use href="#k0" x="588.50" y="218.50"/>
<use href="#k1" x="588.50" y="218.50"/>
<use href="#k2" x="588.50" y="218.50"/>
<use href="#k3" x="588.50" y="218.50"/>
<use href="#k0" x="623.40" y="218.50"/>
<use href="#k1" x="623.40" y="218.50"/>
<use href="#k2" x="623.40" y="218.50"/>
<use href="#k3" x="623.40" y="218.50"/>
<use href="#k0" x="588.50" y="393.00"/>
<use href="#k1" x="588.50" y="393.00"/>
<use href="#k2" x="588.50" y="393.00"/>
<use href="#k3" x="588.50" y="393.00"/>
<use href="#k0" x="623.40" y="393.00"/>
<use href="#k1" x="623.40" y="393.00"/>
<use href="#k2" x="623.40" y="393.00"/>
<use href="#k3" x="623.40" y="393.00"/>
<rect x="604.25" y="259.15" width="3.4" height="3.4" fill="#f5b800" transform="rotate(-90.0 605.95 260.85)"/>
<polygon points="605.95,246.35 601.15,254.85 610.75,254.85" fill="#f5b800"/>
<rect x="604.25" y="348.95" width="3.4" height="3.4" fill="#f5b800" transform="rotate(90.0 605.95 350.65)"/>
<polygon points="605.95,365.15 601.15,356.65 610.75,356.65" fill="#f5b800"/>
<rect x="559.35" y="304.05" width="3.4" height="3.4" fill="#f5b800" transform="rotate(180.0 561.05 305.75)"/>
<polygon points="546.55,305.75 555.05,300.95 555.05,310.55" fill="#f5b800"/>
<rect x="649.15" y="304.05" width="3.4" height="3.4" fill="#f5b800" transform="rotate(0.0 650.85 305.75)"/>
<polygon points="665.35,305.75 656.85,300.95 656.85,310.55" fill="#f5b800"/>
<rect x="570.5" y="205.75" width="73.25" height="23" fill="none" stroke="#111" stroke-width="1.5" stroke-dasharray="1.5,1.6"/>
<rect x="504.6" y="271.1" width="24.2" height="72.6" fill="none" stroke="#111" stroke-width="1.5" stroke-dasharray="1.5,1.6"/>
<rect x="684.7" y="271.1" width="24" height="72.6" fill="none" stroke="#111" stroke-width="1.5" stroke-dasharray="1.5,1.6"/>
<rect x="570.5" y="384.2" width="73.25" height="23.6" fill="none" stroke="#111" stroke-width="1.5" stroke-dasharray="1.5,1.6"/>
<line x1="649.25" y1="203.75" x2="645" y2="215" stroke="#000" stroke-width="1.2"/>
<text x="663.50" y="199.50" font-size="13.5" text-anchor="middle" fill="#000" textLength="177.9" lengthAdjust="spacingAndGlyphs" >surface-defects modification</text>
<text x="6.00" y="441.30" font-size="28" text-anchor="start" fill="#000" >c</text>
<rect x="38.25" y="442.8" width="24" height="9.5" fill="#8dd0dc"/>
<rect x="38.25" y="456" width="24" height="9.5" fill="#f7b994"/>
<text transform="translate(65.50,451.40) scale(1.08,1)" font-size="10.6" text-anchor="start" fill="#000">Fe</text>
<text transform="translate(65.50,464.90) scale(1.08,1)" font-size="10.6" text-anchor="start" fill="#000">Mn</text>
<line x1="65" y1="469.2" x2="350" y2="469.2" stroke="#ececec" stroke-width="0.8"/>
<line x1="65" y1="498.6" x2="350" y2="498.6" stroke="#ececec" stroke-width="0.8"/>
<rect x="100.04" y="444" width="102.96" height="10" fill="#8dd0dc"/>
<rect x="114.08" y="454" width="88.92" height="10.4" fill="#f7b994"/>
<path d="M91.83,449 H108.25 M91.83,447.4 V450.6 M108.25,447.4 V450.6" stroke="#333" stroke-width="1" fill="none"/>
<path d="M107.60,459.2 H120.56 M107.60,457.59999999999997 V460.8 M120.56,457.59999999999997 V460.8" stroke="#333" stroke-width="1" fill="none"/>
<rect x="213" y="444" width="113.76" height="10" fill="#8dd0dc"/>
<rect x="213" y="454" width="76.03" height="10.4" fill="#f7b994"/>
<path d="M317.98,449 H335.54 M317.98,447.4 V450.6 M335.54,447.4 V450.6" stroke="#333" stroke-width="1" fill="none"/>
<path d="M283.85,459.2 H294.22 M283.85,457.59999999999997 V460.8 M294.22,457.59999999999997 V460.8" stroke="#333" stroke-width="1" fill="none"/>
<rect x="111.56" y="473.4" width="91.44" height="10" fill="#8dd0dc"/>
<rect x="123.80" y="483.4" width="79.20" height="10.4" fill="#f7b994"/>
<path d="M103.50,478.4 H119.62 M103.50,476.79999999999995 V480.0 M119.62,476.79999999999995 V480.0" stroke="#333" stroke-width="1" fill="none"/>
<path d="M117.68,488.59999999999997 H129.92 M117.68,486.99999999999994 V490.2 M129.92,486.99999999999994 V490.2" stroke="#333" stroke-width="1" fill="none"/>
<rect x="213" y="473.4" width="94.32" height="10" fill="#8dd0dc"/>
<rect x="213" y="483.4" width="74.88" height="10.4" fill="#f7b994"/>
<path d="M299.33,478.4 H315.31 M299.33,476.79999999999995 V480.0 M315.31,476.79999999999995 V480.0" stroke="#333" stroke-width="1" fill="none"/>
<path d="M281.62,488.59999999999997 H294.14 M281.62,486.99999999999994 V490.2 M294.14,486.99999999999994 V490.2" stroke="#333" stroke-width="1" fill="none"/>
<rect x="96.01" y="503" width="106.99" height="10" fill="#8dd0dc"/>
<rect x="103.28" y="513" width="99.72" height="10.4" fill="#f7b994"/>
<path d="M87.80,508 H104.22 M87.80,506.4 V509.6 M104.22,506.4 V509.6" stroke="#333" stroke-width="1" fill="none"/>
<path d="M96.30,518.2 H110.26 M96.30,516.6 V519.8000000000001 M110.26,516.6 V519.8000000000001" stroke="#333" stroke-width="1" fill="none"/>
<rect x="213" y="503" width="106.56" height="10" fill="#8dd0dc"/>
<rect x="213" y="513" width="99.36" height="10.4" fill="#f7b994"/>
<path d="M311.06,508 H328.06 M311.06,506.4 V509.6 M328.06,506.4 V509.6" stroke="#333" stroke-width="1" fill="none"/>
<path d="M305.16,518.2 H319.56 M305.16,516.6 V519.8000000000001 M319.56,516.6 V519.8000000000001" stroke="#333" stroke-width="1" fill="none"/>
<text x="198.00" y="457.20" font-size="10.6" text-anchor="end" fill="#000" >modified-300</text>
<text x="218.60" y="457.20" font-size="10.6" text-anchor="start" fill="#000" >blank-300</text>
<line x1="203" y1="454" x2="200.5" y2="454" stroke="#000" stroke-width="1.5"/>
<line x1="213" y1="454" x2="215.5" y2="454" stroke="#000" stroke-width="1.5"/>
<text x="198.00" y="486.60" font-size="10.6" text-anchor="end" fill="#000" >modified-100</text>
<text x="218.60" y="486.60" font-size="10.6" text-anchor="start" fill="#000" >blank-100</text>
<line x1="203" y1="483.4" x2="200.5" y2="483.4" stroke="#000" stroke-width="1.5"/>
<line x1="213" y1="483.4" x2="215.5" y2="483.4" stroke="#000" stroke-width="1.5"/>
<text x="198.00" y="516.20" font-size="10.6" text-anchor="end" fill="#000" >pristine</text>
<text x="218.60" y="516.20" font-size="10.6" text-anchor="start" fill="#000" >pristine</text>
<line x1="203" y1="513" x2="200.5" y2="513" stroke="#000" stroke-width="1.5"/>
<line x1="213" y1="513" x2="215.5" y2="513" stroke="#000" stroke-width="1.5"/>
<path d="M203,439 V528 H65" fill="none" stroke="#000" stroke-width="2"/>
<path d="M213,439 V528 H350.4" fill="none" stroke="#000" stroke-width="2"/>
<line x1="167.0" y1="528" x2="167.0" y2="525.5" stroke="#000" stroke-width="1.2"/>
<line x1="249.0" y1="528" x2="249.0" y2="525.5" stroke="#000" stroke-width="1.2"/>
<line x1="131.0" y1="528" x2="131.0" y2="525.5" stroke="#000" stroke-width="1.2"/>
<line x1="285.0" y1="528" x2="285.0" y2="525.5" stroke="#000" stroke-width="1.2"/>
<line x1="95.0" y1="528" x2="95.0" y2="525.5" stroke="#000" stroke-width="1.2"/>
<line x1="321.0" y1="528" x2="321.0" y2="525.5" stroke="#000" stroke-width="1.2"/>
<text transform="translate(202.40,540.80) scale(1.06,1)" font-size="12.3" text-anchor="middle" fill="#000">0</text>
<text transform="translate(212.60,540.80) scale(1.06,1)" font-size="12.3" text-anchor="middle" fill="#000">0</text>
<text transform="translate(167.00,540.80) scale(1.06,1)" font-size="12.3" text-anchor="middle" fill="#000">5</text>
<text transform="translate(249.00,540.80) scale(1.06,1)" font-size="12.3" text-anchor="middle" fill="#000">5</text>
<text transform="translate(131.00,540.80) scale(1.06,1)" font-size="12.3" text-anchor="middle" fill="#000">10</text>
<text transform="translate(285.00,540.80) scale(1.06,1)" font-size="12.3" text-anchor="middle" fill="#000">10</text>
<text transform="translate(95.00,540.80) scale(1.06,1)" font-size="12.3" text-anchor="middle" fill="#000">15</text>
<text transform="translate(321.00,540.80) scale(1.06,1)" font-size="12.3" text-anchor="middle" fill="#000">15</text>
<text x="204.70" y="554.60" font-size="13.5" text-anchor="middle" fill="#000" textLength="74.3" lengthAdjust="spacingAndGlyphs" >Atomic ratio</text>
<text x="4.30" y="559.70" font-size="28" text-anchor="start" fill="#000" >d</text>
<path d="M69.8,591.3 L72.5,592.0 L75.0,592.0 L78.0,590.3 L82.0,587.0 L86.0,584.2 L89.0,583.5 L93.0,584.2 L98.0,585.7 L105.0,587.2 L116.0,588.4 L130.0,589.3 L145.0,589.8 L172.0,589.8 L199.0,589.1 L220.0,589.5 L240.0,590.0 L260.0,590.8 L280.0,591.6 L300.0,592.5 L320.0,593.4 L348.0,594.6" fill="none" stroke="#f0892c" stroke-width="3.8" stroke-linecap="round" stroke-linejoin="round"/>
<path d="M69.8,591.3 L72.5,592.0 L75.0,592.0 L78.0,590.3 L82.0,587.0 L86.0,584.2 L89.0,583.5 L93.0,584.2 L98.0,585.7 L105.0,587.2 L116.0,588.4 L130.0,589.3 L145.0,589.8 L172.0,589.8 L199.0,589.1 L220.0,589.5 L240.0,590.0 L260.0,590.8 L280.0,591.6 L300.0,592.5 L320.0,593.4 L348.0,594.6" fill="none" stroke="#f6b070" stroke-width="0.8" stroke-linecap="round" stroke-linejoin="round" opacity="0.6"/>
<path d="M69.8,597.4 L73.0,597.8 L77.0,598.8 L80.5,600.8 L84.4,603.4 L90.0,606.6 L97.5,610.0 L103.0,611.2 L110.0,611.7 L122.0,612.6 L135.0,614.1 L150.0,616.3 L172.5,619.4 L185.0,621.0 L200.0,622.6 L215.0,623.6 L240.0,624.2 L280.0,624.6 L348.0,625.0" fill="none" stroke="#4a9fe2" stroke-width="3.8" stroke-linecap="round" stroke-linejoin="round"/>
<path d="M69.8,597.4 L73.0,597.8 L77.0,598.8 L80.5,600.8 L84.4,603.4 L90.0,606.6 L97.5,610.0 L103.0,611.2 L110.0,611.7 L122.0,612.6 L135.0,614.1 L150.0,616.3 L172.5,619.4 L185.0,621.0 L200.0,622.6 L215.0,623.6 L240.0,624.2 L280.0,624.6 L348.0,625.0" fill="none" stroke="#8cc6f2" stroke-width="0.8" stroke-linecap="round" stroke-linejoin="round" opacity="0.6"/>
<rect x="66.5" y="573.3" width="283" height="85.1" fill="none" stroke="#000" stroke-width="2"/>
<line x1="66.5" y1="639.10" x2="69" y2="639.10" stroke="#000" stroke-width="1.2"/>
<line x1="66.5" y1="619.80" x2="69" y2="619.80" stroke="#000" stroke-width="1.2"/>
<line x1="66.5" y1="600.50" x2="69" y2="600.50" stroke="#000" stroke-width="1.2"/>
<line x1="66.5" y1="581.20" x2="69" y2="581.20" stroke="#000" stroke-width="1.2"/>
<line x1="71.00" y1="658.4" x2="71.00" y2="655.9" stroke="#000" stroke-width="1.2"/>
<text transform="translate(71.00,671.20) scale(1.06,1)" font-size="12.5" text-anchor="middle" fill="#000">0</text>
<line x1="117.33" y1="658.4" x2="117.33" y2="655.9" stroke="#000" stroke-width="1.2"/>
<text transform="translate(117.33,671.20) scale(1.06,1)" font-size="12.5" text-anchor="middle" fill="#000">100</text>
<line x1="163.66" y1="658.4" x2="163.66" y2="655.9" stroke="#000" stroke-width="1.2"/>
<text transform="translate(163.66,671.20) scale(1.06,1)" font-size="12.5" text-anchor="middle" fill="#000">200</text>
<line x1="209.99" y1="658.4" x2="209.99" y2="655.9" stroke="#000" stroke-width="1.2"/>
<text transform="translate(209.99,671.20) scale(1.06,1)" font-size="12.5" text-anchor="middle" fill="#000">300</text>
<line x1="256.32" y1="658.4" x2="256.32" y2="655.9" stroke="#000" stroke-width="1.2"/>
<text transform="translate(256.32,671.20) scale(1.06,1)" font-size="12.5" text-anchor="middle" fill="#000">400</text>
<line x1="302.65" y1="658.4" x2="302.65" y2="655.9" stroke="#000" stroke-width="1.2"/>
<text transform="translate(302.65,671.20) scale(1.06,1)" font-size="12.5" text-anchor="middle" fill="#000">500</text>
<line x1="348.98" y1="658.4" x2="348.98" y2="655.9" stroke="#000" stroke-width="1.2"/>
<text transform="translate(348.98,671.20) scale(1.06,1)" font-size="12.5" text-anchor="middle" fill="#000">600</text>
<text transform="translate(62.80,662.80) scale(1.06,1)" font-size="12.5" text-anchor="end" fill="#000">0</text>
<text transform="translate(62.80,643.50) scale(1.06,1)" font-size="12.5" text-anchor="end" fill="#000">45</text>
<text transform="translate(62.80,624.20) scale(1.06,1)" font-size="12.5" text-anchor="end" fill="#000">90</text>
<text transform="translate(62.80,604.90) scale(1.06,1)" font-size="12.5" text-anchor="end" fill="#000">135</text>
<text transform="translate(62.80,585.60) scale(1.06,1)" font-size="12.5" text-anchor="end" fill="#000">180</text>
<text x="207.50" y="688.00" font-size="13.5" text-anchor="middle" fill="#000" textLength="85.1" lengthAdjust="spacingAndGlyphs" >Cycle number</text>
<text transform="translate(33.9,693.3) scale(1.07,1) rotate(-90)" font-size="13.9" fill="#000">Capacity (mAh g<tspan font-size="9" dy="-6.2">−1</tspan><tspan font-size="9" dx="-9.5" dy="9.6">cathode</tspan><tspan dy="-3.4">)</tspan></text>
<circle cx="78.2" cy="635.3" r="2.6" fill="#f0892c"/><circle cx="77.6" cy="634.7" r="0.9" fill="#f8c090"/>
<circle cx="78.2" cy="649" r="2.6" fill="#4a9fe2"/><circle cx="77.6" cy="648.4" r="0.9" fill="#b0d8f8"/>
<text x="88.10" y="637.40" font-size="11" text-anchor="start" fill="#000" textLength="41.2" lengthAdjust="spacingAndGlyphs" >modified</text>
<text x="89.00" y="651.50" font-size="11" text-anchor="start" fill="#000" >blank</text>
<text x="202" y="649" font-size="11.2" fill="#000">Specific current: 0.5 A g<tspan font-size="7.6" dy="-5">−1</tspan><tspan font-size="7.6" dx="-9.8" dy="7.6">cathode</tspan></text>
<text x="412.00" y="437.00" font-size="28" text-anchor="start" fill="#000" >e</text>
<polygon points="570.40,535.18 586.02,546.53 580.05,564.88 560.75,564.88 554.78,546.53" fill="none" stroke="#d8d8d8" stroke-width="0.6"/>
<polygon points="570.40,518.76 601.63,541.45 589.70,578.17 551.10,578.17 539.17,541.45" fill="none" stroke="#d8d8d8" stroke-width="0.6"/>
<polygon points="570.40,502.34 617.25,536.38 599.35,591.45 541.45,591.45 523.55,536.38" fill="none" stroke="#d8d8d8" stroke-width="0.6"/>
<polygon points="570.40,485.92 632.87,531.30 609.01,604.74 531.79,604.74 507.93,531.30" fill="none" stroke="#d8d8d8" stroke-width="0.6"/>
<polygon points="570.40,469.50 637.55,529.78 596.60,587.67 524.56,614.70 492.32,526.23" fill="#ee5a64" fill-opacity="0.34" stroke="none"/>
<polygon points="570.40,551.60 585.24,546.78 598.39,590.12 550.13,579.50 570.40,551.60" fill="#8ad4a0" fill-opacity="0.32" stroke="none"/>
<polygon points="570.40,484.28 599.29,542.21 580.05,564.88 553.51,574.85 570.40,551.60" fill="#4a7ad8" fill-opacity="0.36" stroke="none"/>
<polygon points="570.40,469.50 620.37,535.36 577.64,561.56 548.68,581.49 555.56,546.78" fill="#c49af2" fill-opacity="0.36" stroke="none"/>
<polygon points="570.40,518.76 627.17,533.16 617.69,616.69 535.17,600.09 564.15,549.57" fill="#e6c04a" fill-opacity="0.34" stroke="none"/>
<polygon points="570.40,469.50 637.55,529.78 596.60,587.67 524.56,614.70 492.32,526.23" fill="none" stroke="#e8383c" stroke-width="2" stroke-linejoin="miter"/>
<polygon points="570.40,551.60 585.24,546.78 598.39,590.12 550.13,579.50 570.40,551.60" fill="none" stroke="#6cc48a" stroke-width="2" stroke-linejoin="miter"/>
<polygon points="570.40,484.28 599.29,542.21 580.05,564.88 553.51,574.85 570.40,551.60" fill="none" stroke="#2a66d4" stroke-width="2" stroke-linejoin="miter"/>
<polygon points="570.40,469.50 620.37,535.36 577.64,561.56 548.68,581.49 555.56,546.78" fill="none" stroke="#b07ef0" stroke-width="2" stroke-linejoin="miter"/>
<polygon points="570.40,518.76 627.17,533.16 617.69,616.69 535.17,600.09 564.15,549.57" fill="none" stroke="#d4a21a" stroke-width="2" stroke-linejoin="miter"/>
<line x1="570.4" y1="551.6" x2="570.40" y2="469.50" stroke="#000" stroke-width="1.8"/>
<line x1="570.4" y1="551.6" x2="648.48" y2="526.23" stroke="#000" stroke-width="1.8"/>
<line x1="570.4" y1="551.6" x2="618.66" y2="618.02" stroke="#000" stroke-width="1.8"/>
<line x1="570.4" y1="551.6" x2="522.14" y2="618.02" stroke="#000" stroke-width="1.8"/>
<line x1="570.4" y1="551.6" x2="492.32" y2="526.23" stroke="#000" stroke-width="1.8"/>
<polygon points="570.40,469.50 648.48,526.23 618.66,618.02 522.14,618.02 492.32,526.23" fill="none" stroke="#000" stroke-width="1.9" stroke-linejoin="miter"/>
<text transform="translate(583,469.8) scale(1.05,1) rotate(36)" y="3.6" font-size="10.3" text-anchor="middle" fill="#151515">100</text>
<text transform="translate(579.9,484) scale(1.05,1) rotate(36)" y="3.6" font-size="10.3" text-anchor="middle" fill="#151515">99</text>
<text transform="translate(580.6,500.3) scale(1.05,1) rotate(36)" y="3.6" font-size="10.3" text-anchor="middle" fill="#151515">98</text>
<text transform="translate(580.6,515.9) scale(1.05,1) rotate(36)" y="3.6" font-size="10.3" text-anchor="middle" fill="#151515">97</text>
<text transform="translate(579.9,532.2) scale(1.05,1) rotate(36)" y="3.6" font-size="10.3" text-anchor="middle" fill="#151515">96</text>
<text transform="translate(656,537.2) scale(1.05,1) rotate(18)" y="3.6" font-size="10.3" text-anchor="middle" fill="#151515">180</text>
<text transform="translate(640.6,542) scale(1.05,1) rotate(18)" y="3.6" font-size="10.3" text-anchor="middle" fill="#151515">150</text>
<text transform="translate(624.6,546.8) scale(1.05,1) rotate(18)" y="3.6" font-size="10.3" text-anchor="middle" fill="#151515">120</text>
<text transform="translate(605.5,551) scale(1.05,1) rotate(18)" y="3.6" font-size="10.3" text-anchor="middle" fill="#151515">90</text>
<text transform="translate(589.6,555.8) scale(1.05,1) rotate(18)" y="3.6" font-size="10.3" text-anchor="middle" fill="#151515">60</text>
<text transform="translate(610.25,625.9) scale(1.05,1) rotate(0)" y="3.6" font-size="10.3" text-anchor="middle" fill="#151515">1.8</text>
<text transform="translate(601.3,612.3) scale(1.05,1) rotate(0)" y="3.6" font-size="10.3" text-anchor="middle" fill="#151515">1.6</text>
<text transform="translate(591,599.5) scale(1.05,1) rotate(0)" y="3.6" font-size="10.3" text-anchor="middle" fill="#151515">1.4</text>
<text transform="translate(581.9,585.6) scale(1.05,1) rotate(0)" y="3.6" font-size="10.3" text-anchor="middle" fill="#151515">1.2</text>
<text transform="translate(572.2,572.2) scale(1.05,1) rotate(0)" y="3.6" font-size="10.3" text-anchor="middle" fill="#151515">1.0</text>
<text transform="translate(507.1,612.2) scale(1.05,1) rotate(-12)" y="3.6" font-size="10.3" text-anchor="middle" fill="#151515">100</text>
<text transform="translate(520.3,598.5) scale(1.05,1) rotate(-12)" y="3.6" font-size="10.3" text-anchor="middle" fill="#151515">80</text>
<text transform="translate(529.4,585.4) scale(1.05,1) rotate(-12)" y="3.6" font-size="10.3" text-anchor="middle" fill="#151515">60</text>
<text transform="translate(539.3,572.3) scale(1.05,1) rotate(-12)" y="3.6" font-size="10.3" text-anchor="middle" fill="#151515">40</text>
<text transform="translate(548.8,558.9) scale(1.05,1) rotate(-12)" y="3.6" font-size="10.3" text-anchor="middle" fill="#151515">20</text>
<text transform="translate(501.25,508.8) scale(1.05,1) rotate(-36)" y="3.6" font-size="10.3" text-anchor="middle" fill="#151515">15000</text>
<text transform="translate(515.9,515) scale(1.05,1) rotate(-36)" y="3.6" font-size="10.3" text-anchor="middle" fill="#151515">12000</text>
<text transform="translate(528.25,522.3) scale(1.05,1) rotate(-36)" y="3.6" font-size="10.3" text-anchor="middle" fill="#151515">9000</text>
<text transform="translate(544.6,527.4) scale(1.05,1) rotate(-36)" y="3.6" font-size="10.3" text-anchor="middle" fill="#151515">6000</text>
<text transform="translate(559.75,532.4) scale(1.05,1) rotate(-36)" y="3.6" font-size="10.3" text-anchor="middle" fill="#151515">3000</text>
<text x="577.55" y="456.90" font-size="13.5" text-anchor="middle" fill="#000" textLength="155.4" lengthAdjust="spacingAndGlyphs" >Coulombic effciency (%)</text>
<text x="680.00" y="508.40" font-size="13.5" text-anchor="middle" fill="#000" textLength="58.9" lengthAdjust="spacingAndGlyphs" >Dischage</text>
<text x="651" y="522" font-size="14.3" fill="#000">capacity (mAh g<tspan font-size="9.4" dy="-6.5">−1</tspan><tspan font-size="9.4" dx="-9.5" dy="10.5">cathode</tspan><tspan dy="-4">)</tspan></text>
<text x="443.40" y="532.20" font-size="13.5" text-anchor="middle" fill="#000" textLength="89.1" lengthAdjust="spacingAndGlyphs" >Cycle number</text>
<text x="384.7" y="644.7" font-size="14.45" fill="#000">Specific energy (Wh kg<tspan font-size="9.5" dy="-6.6">−1</tspan><tspan dy="6.6">)</tspan></text>
<text x="692.05" y="644.80" font-size="13.5" text-anchor="middle" fill="#000" textLength="194.8" lengthAdjust="spacingAndGlyphs" >Average discharge voltage (V)</text>
<rect x="431.7" y="657.5" width="25.30000000000001" height="11.1" fill="#f4c0c4" stroke="#e04040" stroke-width="2"/>
<text x="447.45" y="685.90" font-size="13.5" text-anchor="middle" fill="#000" textLength="61.2" lengthAdjust="spacingAndGlyphs" >This work</text>
<rect x="500.4" y="657.5" width="24.800000000000068" height="11.1" fill="#d4f0e0" stroke="#6cd098" stroke-width="2"/>
<text x="515.45" y="685.90" font-size="13.5" text-anchor="middle" fill="#000" textLength="42.4" lengthAdjust="spacingAndGlyphs" >Ref [4]</text>
<rect x="568.4" y="657.5" width="24.800000000000068" height="11.1" fill="#a8c0ee" stroke="#2a6ad4" stroke-width="2"/>
<text x="585.80" y="685.90" font-size="13.5" text-anchor="middle" fill="#000" textLength="42.9" lengthAdjust="spacingAndGlyphs" >Ref [5]</text>
<rect x="637.4" y="657.5" width="24.100000000000023" height="11.1" fill="#e6d6f8" stroke="#b47ae8" stroke-width="2"/>
<text x="652.65" y="685.90" font-size="13.5" text-anchor="middle" fill="#000" textLength="41.6" lengthAdjust="spacingAndGlyphs" >Ref [9]</text>
<rect x="705.3" y="657.5" width="25.0" height="11.1" fill="#f0dca4" stroke="#d4a020" stroke-width="2"/>
<text x="727.15" y="685.90" font-size="13.5" text-anchor="middle" fill="#000" textLength="50.4" lengthAdjust="spacingAndGlyphs" >Ref [10]</text>
</svg></body></html>
